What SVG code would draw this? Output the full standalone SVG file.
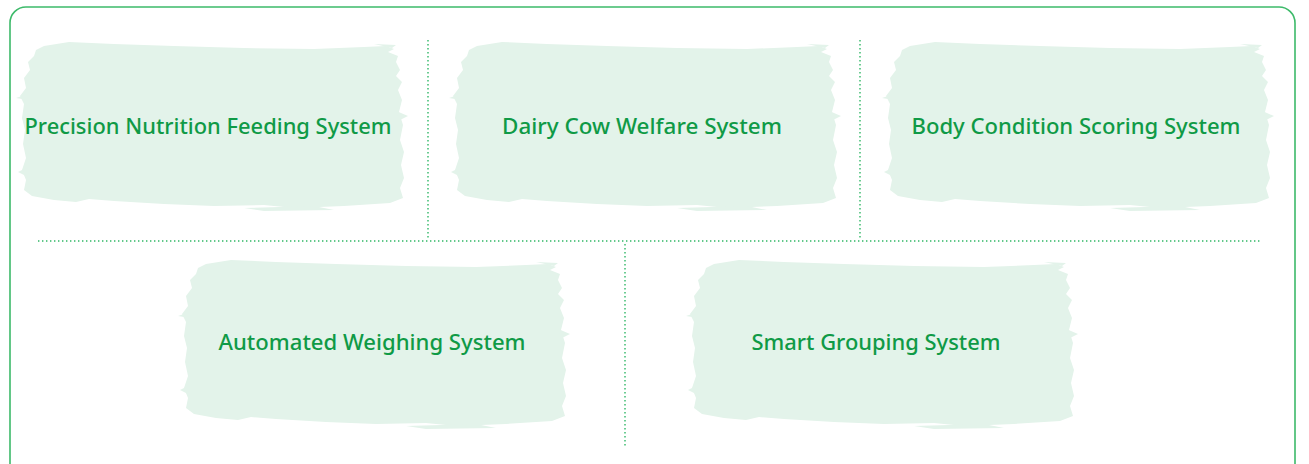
<svg xmlns="http://www.w3.org/2000/svg" width="1309" height="464" viewBox="0 0 1309 464">
<style>
.frame{fill:none;stroke:#3dba6a;stroke-width:1.6}
.brush{fill:#e3f3ea}
.lbl{font-family:"Noto Sans","Liberation Sans",sans-serif;font-size:21px;font-weight:500;fill:#0f9a46;text-anchor:middle}
.dot{stroke:#2fb766;stroke-width:1.4;stroke-dasharray:1.4 2.6;fill:none}
</style>
<defs>
<g id="brush" class="brush">
<path d="M22,10 L30,6 L55,2 L100,4 L160,6 L230,8 L300,9 L350,7 L372,6 L380,9 L374,12 L384,16 L382,22 L386,30 L382,36 L388,42 L384,50 L388,60 L385,72 L389,85 L386,100 L390,112 L387,125 L390,138 L386,148 L389,158 L376,163 L330,166 L280,168 L250,165 L200,166 L150,164 L100,161 L75,159 L62,162 L40,160 L18,156 L10,150 L12,140 L8,130 L12,118 L9,104 L11,90 L8,78 L10,64 L6,56 L12,48 L10,38 L16,30 L14,22 L20,16 Z"/>
<path d="M2,58 L14,54 L14,60 Z"/>
<path d="M360,4 L382,5 L378,8 Z"/>
<path d="M230,168 L300,166 L320,170 L250,171 Z"/>
<path d="M380,70 L394,76 L386,80 Z"/>
<path d="M4,132 L12,128 L12,136 Z"/>
</g>
</defs>
<rect class="frame" x="10" y="7" width="1285" height="480" rx="16"/>
<g id="connectors">
<line class="dot" x1="428" y1="40" x2="428" y2="240"/>
<line class="dot" x1="860" y1="40" x2="860" y2="240"/>
<line class="dot" x1="38" y1="241" x2="1262" y2="241"/>
<line class="dot" x1="625" y1="244" x2="625" y2="446"/>
</g>
<g id="n1"><use href="#brush" x="14" y="40"/><text class="lbl" x="208" y="134" textLength="367" lengthAdjust="spacingAndGlyphs">Precision Nutrition Feeding System</text></g>
<g id="n2"><use href="#brush" x="447" y="40"/><text class="lbl" x="642" y="134" textLength="280" lengthAdjust="spacingAndGlyphs">Dairy Cow Welfare System</text></g>
<g id="n3"><use href="#brush" x="880" y="40"/><text class="lbl" x="1076" y="134" textLength="329" lengthAdjust="spacingAndGlyphs">Body Condition Scoring System</text></g>
<g id="n4"><use href="#brush" x="176" y="258"/><text class="lbl" x="372" y="350" textLength="307" lengthAdjust="spacingAndGlyphs">Automated Weighing System</text></g>
<g id="n5"><use href="#brush" x="684" y="258"/><text class="lbl" x="876" y="350" textLength="249" lengthAdjust="spacingAndGlyphs">Smart Grouping System</text></g>
</svg>
